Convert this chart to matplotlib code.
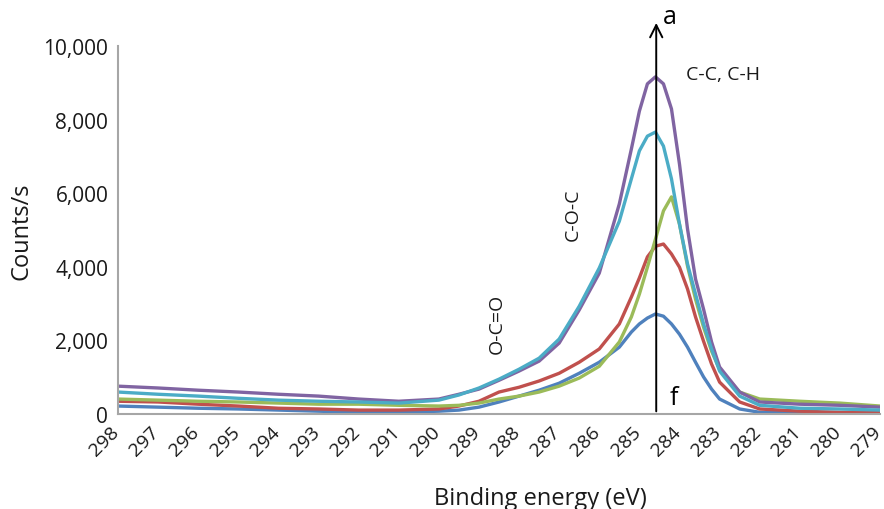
"""XPS C1s spectra, series a-f, redrawn from a spreadsheet-style chart."""

import matplotlib

matplotlib.use("Agg")
import matplotlib.pyplot as plt
import matplotlib.transforms as mtransforms
from matplotlib.ticker import FuncFormatter

# Binding energy grid (eV)
energy = [
    298, 297, 296, 295, 294, 293, 292, 291, 290, 289.5, 289, 288.5, 288,
    287.5, 287, 286.5, 286, 285.5, 285.2, 285, 284.8, 284.6, 284.4, 284.2,
    284, 283.8, 283.6, 283.4, 283.2, 283, 282.5, 282, 281, 280, 279,
]

# Counts/s for each series
blue = [
    220, 190, 160, 140, 110, 80, 50, 50, 80, 110, 190, 330, 490,
    650, 840, 1110, 1410, 1820, 2230, 2450, 2610, 2720, 2660, 2450,
    2170, 1820, 1410, 1010, 680, 410, 140, 50, 30, 30, 20,
]
red = [
    350, 330, 270, 220, 160, 140, 110, 110, 140, 220, 350, 600, 730,
    900, 1110, 1410, 1770, 2450, 3180, 3700, 4270, 4560, 4620, 4350,
    3990, 3400, 2640, 1980, 1360, 870, 330, 140, 80, 50, 50,
]
green = [
    410, 380, 350, 330, 300, 270, 270, 240, 220, 240, 300, 410, 490,
    600, 760, 980, 1300, 1960, 2640, 3260, 3990, 4750, 5520, 5900,
    5160, 4020, 3120, 2360, 1710, 1220, 600, 410, 350, 300, 220,
]
purple = [
    760, 710, 650, 600, 540, 490, 410, 350, 410, 540, 680, 920, 1170,
    1440, 1930, 2830, 3830, 5710, 7200, 8230, 8970, 9160, 8970, 8290,
    6790, 5030, 3670, 2850, 1960, 1280, 600, 330, 270, 240, 190,
]
cyan = [
    600, 540, 490, 430, 380, 350, 330, 300, 380, 520, 710, 950, 1220,
    1520, 2040, 2930, 3970, 5240, 6390, 7150, 7550, 7660, 7280, 6390,
    5160, 4080, 3260, 2450, 1770, 1170, 490, 240, 160, 140, 110,
]

series = [blue, red, green, purple, cyan]
colors = ["#4f81bd", "#c0504d", "#9bbb59", "#8064a2", "#4bacc6"]

x_ticks = list(range(298, 278, -1))
y_ticks = [0, 2000, 4000, 6000, 8000, 10000]

arrow_energy = 284.58

plt.rcParams["font.family"] = ["Open Sans", "DejaVu Sans"]
text_color = "#1a1a1a"

fig = plt.figure(figsize=(8.84, 5.10), dpi=100)
ax = fig.add_axes([0.1335, 0.186, 0.862, 0.722])

for values, color in zip(series, colors):
    ax.plot(energy, values, color=color, linewidth=2.4, solid_capstyle="round",
            solid_joinstyle="round")

ax.set_xlim(298, 279)
ax.set_ylim(0, 10000)
ax.set_xticks(x_ticks)
ax.set_yticks(y_ticks)
ax.yaxis.set_major_formatter(FuncFormatter(lambda v, _: f"{int(v):,}"))
ax.tick_params(axis="both", length=0, labelsize=15, colors=text_color)
ax.tick_params(axis="x", labelsize=14, pad=6)
ax.tick_params(axis="y", pad=7)

# rotated x labels, nudged left so the last one stays inside the figure
shift = mtransforms.ScaledTranslation(-8 / 100, 0, fig.dpi_scale_trans)
for lbl in ax.get_xticklabels():
    lbl.set_rotation(45)
    lbl.set_ha("right")
    lbl.set_va("top")
    lbl.set_rotation_mode("anchor")
    lbl.set_transform(lbl.get_transform() + shift)

for side in ("top", "right"):
    ax.spines[side].set_visible(False)
for side in ("left", "bottom"):
    ax.spines[side].set_color("#a6a6a6")
    ax.spines[side].set_linewidth(1.5)

ax.set_xlabel("Binding energy (eV)", fontsize=17, color=text_color)
ax.xaxis.set_label_coords(0.554, -0.195)
ax.set_ylabel("Counts/s", fontsize=17, color=text_color)
ax.yaxis.set_label_coords(-0.111, 0.5)

# a -> f arrow through the main peak
ax.annotate(
    "",
    xy=(arrow_energy, 10700),
    xytext=(arrow_energy, 0),
    arrowprops=dict(arrowstyle="->", color="black", lw=1.4, mutation_scale=22),
    annotation_clip=False,
)
ax.text(284.42, 10800, "a", fontsize=18, color="black", ha="left", va="center")
ax.text(284.25, 450, "f", fontsize=18, color="black", ha="left", va="center")

ax.text(283.85, 9250, "C-C, C-H", fontsize=14, color=text_color, ha="left", va="center")
ax.text(286.65, 5430, "C-O-C", fontsize=14, color=text_color, rotation=90,
        ha="center", va="center")
ax.text(288.55, 2470, "O-C=O", fontsize=14, color=text_color, rotation=90,
        ha="center", va="center")

fig.savefig("out.png", dpi=100)
